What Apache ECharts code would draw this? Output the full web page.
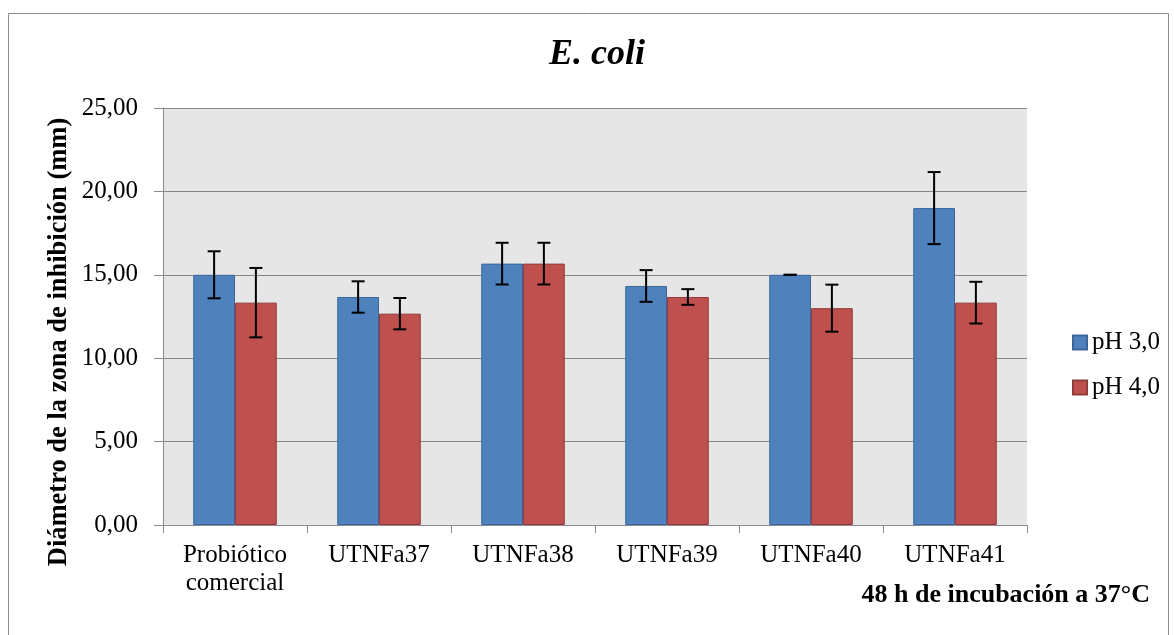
<!DOCTYPE html>
<html>
<head>
<meta charset="utf-8">
<script src="https://cdn.jsdelivr.net/npm/echarts@6/dist/echarts.min.js"></script>
<style>
html,body{margin:0;padding:0;background:#fff;}
#c{width:1174px;height:635px;}
</style>
</head>
<body>
<div id="c"></div>
<script>
const categories = ['Probiótico\ncomercial', 'UTNFa37', 'UTNFa38', 'UTNFa39', 'UTNFa40', 'UTNFa41'];
const seriesNames = ['pH 3,0', 'pH 4,0'];
const ph3 = [15.00, 13.67, 15.67, 14.33, 15.00, 19.00];
const ph3Err = [1.41, 0.94, 1.25, 0.95, 0.00, 2.16];
const ph4 = [13.33, 12.67, 15.67, 13.67, 13.00, 13.33];
const ph4Err = [2.08, 0.94, 1.25, 0.47, 1.41, 1.25];
const yTicks = {min: 0, max: 25, interval: 5};

const FONT = '"Liberation Serif", "Times New Roman", serif';
const BAR_FRAC = 0.29;

function errData(vals, errs) {
  return vals.map((v, i) => [i, v - errs[i], v + errs[i]]);
}
function errRender(offsetSign) {
  return function (params, api) {
    const x = api.value(0), lo = api.value(1), hi = api.value(2);
    const band = api.size([1, 0])[0];
    const off = offsetSign * band * BAR_FRAC / 2;
    const pLo = api.coord([x, lo]);
    const pHi = api.coord([x, hi]);
    const cx = pLo[0] + off;
    const cw = 6.5;
    const st = {stroke: '#000', lineWidth: 2};
    return {
      type: 'group',
      children: [
        {type: 'line', shape: {x1: cx, y1: pLo[1], x2: cx, y2: pHi[1]}, style: st},
        {type: 'line', shape: {x1: cx - cw, y1: pHi[1], x2: cx + cw, y2: pHi[1]}, style: st},
        {type: 'line', shape: {x1: cx - cw, y1: pLo[1], x2: cx + cw, y2: pLo[1]}, style: st}
      ]
    };
  };
}

const chart = echarts.init(document.getElementById('c'));
chart.setOption({
  animation: false,
  backgroundColor: '#fff',
  textStyle: {fontFamily: FONT},
  grid: {left: 163, right: 147, top: 108, bottom: 110, show: true, backgroundColor: '#E6E6E6', borderWidth: 0},
  legend: {
    orient: 'vertical', left: 1067, top: 325, itemWidth: 14, itemHeight: 14, itemGap: 20,
    icon: 'rect',
    data: seriesNames,
    textStyle: {fontFamily: FONT, fontSize: 25, color: '#000'}
  },
  graphic: [
    {type: 'rect', shape: {x: 8.5, y: 13.5, width: 1160, height: 640}, style: {fill: 'none', stroke: '#8c8c8c', lineWidth: 1}, silent: true},
    {type: 'text', x: 597, y: 55, style: {text: 'E. coli', font: 'italic bold 36px ' + FONT, fill: '#000', textAlign: 'center', textVerticalAlign: 'middle'}},
    {type: 'text', x: 59, y: 342, rotation: Math.PI / 2, style: {text: 'Diámetro de la zona de inhibición (mm)', font: 'bold 26.5px ' + FONT, fill: '#000', textAlign: 'center', textVerticalAlign: 'middle'}},
    {type: 'text', x: 1150, y: 595, style: {text: '48 h de incubación a 37°C', font: 'bold 26px ' + FONT, fill: '#000', textAlign: 'right', textVerticalAlign: 'middle'}}
  ],
  xAxis: {
    type: 'category', data: categories,
    axisLine: {lineStyle: {color: '#8c8c8c', width: 1}},
    axisTick: {show: true, length: 8, lineStyle: {color: '#8c8c8c'}},
    axisLabel: {fontFamily: FONT, fontSize: 25, color: '#000', margin: 16, lineHeight: 28, interval: 0}
  },
  yAxis: {
    type: 'value', min: yTicks.min, max: yTicks.max, interval: yTicks.interval,
    axisLine: {show: true, lineStyle: {color: '#8c8c8c', width: 1}},
    axisTick: {show: true, length: 9, lineStyle: {color: '#8c8c8c'}},
    splitLine: {lineStyle: {color: '#878787', width: 1.2}},
    axisLabel: {fontFamily: FONT, fontSize: 25, color: '#000', margin: 25, formatter: v => v.toFixed(2).replace('.', ',')}
  },
  series: [
    {name: seriesNames[0], type: 'bar', data: ph3, barWidth: (BAR_FRAC * 100) + '%', barGap: '0%',
      itemStyle: {color: '#4F81BD', borderColor: '#3C6699', borderWidth: 1}},
    {name: seriesNames[1], type: 'bar', data: ph4, barWidth: (BAR_FRAC * 100) + '%', barGap: '0%',
      itemStyle: {color: '#C0504D', borderColor: '#8E3B39', borderWidth: 1}},
    {type: 'custom', renderItem: errRender(-1), data: errData(ph3, ph3Err), z: 10, silent: true},
    {type: 'custom', renderItem: errRender(1), data: errData(ph4, ph4Err), z: 10, silent: true}
  ]
});
</script>
</body>
</html>
